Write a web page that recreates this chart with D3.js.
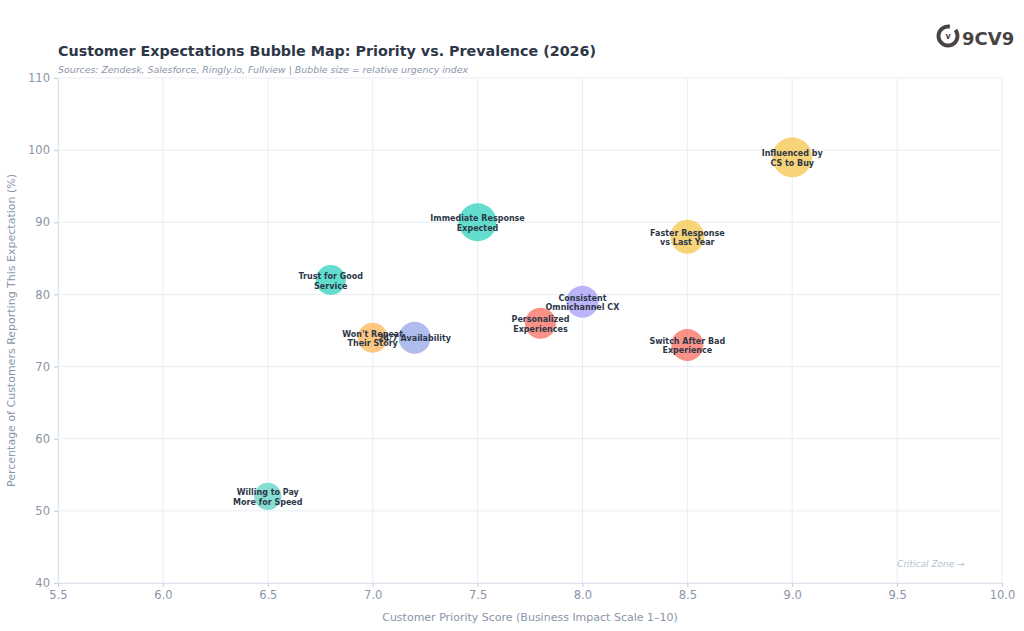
<!DOCTYPE html>
<html>
<head>
<meta charset="utf-8">
<script src="https://cdn.jsdelivr.net/npm/d3@7"></script>
<style>
  body { margin: 0; background: #fff; }
  svg { font-family: "DejaVu Sans", sans-serif; }
</style>
</head>
<body>
<script>
const w = 1024;
const h = 631;

// data
const labels = [
  "Influenced by\nCS to Buy",
  "Faster Response\nvs Last Year",
  "Immediate Response\nExpected",
  "Trust for Good\nService",
  "Won't Repeat\nTheir Story",
  "24/7 Availability",
  "Personalized\nExperiences",
  "Consistent\nOmnichannel CX",
  "Switch After Bad\nExperience",
  "Willing to Pay\nMore for Speed"
];
const priority = [9.0, 8.5, 7.5, 6.8, 7.0, 7.2, 7.8, 8.0, 8.5, 6.5];
const prevalence = [99, 88, 90, 82, 74, 74, 76, 79, 73, 52];
const urgency = [100, 72, 90, 56, 56, 64, 60, 64, 64, 46];
const colors = ["#f6c64c", "#f6c64c", "#2fd3bd", "#2fd3bd", "#fcb357", "#95a4e8", "#fa6e5f", "#a59cf7", "#fa6e5f", "#5fd3c4"];
const xTicks = [5.5, 6.0, 6.5, 7.0, 7.5, 8.0, 8.5, 9.0, 9.5, 10.0];
const yTicks = [40, 50, 60, 70, 80, 90, 100, 110];

const margin = { left: 58, right: 22, top: 78, bottom: 48 };

const svg = d3.select("body")
    .append("svg")
    .attr("width", w)
    .attr("height", h);

const xScale = d3.scaleLinear()
    .domain([5.5, 10])
    .range([margin.left, w - margin.right]);

const yScale = d3.scaleLinear()
    .domain([40, 110])
    .range([h - margin.bottom, margin.top]);

const rScale = d3.scaleSqrt()
    .domain([0, 100])
    .range([0, 20]);

// grid
svg.append("g")
    .selectAll("line")
    .data(xTicks)
    .enter()
    .append("line")
    .attr("x1", d => xScale(d))
    .attr("x2", d => xScale(d))
    .attr("y1", yScale(110))
    .attr("y2", yScale(40))
    .attr("stroke", "#e9edf3")
    .attr("stroke-width", 1);

svg.append("g")
    .selectAll("line")
    .data(yTicks)
    .enter()
    .append("line")
    .attr("x1", xScale(5.5))
    .attr("x2", xScale(10))
    .attr("y1", d => yScale(d))
    .attr("y2", d => yScale(d))
    .attr("stroke", "#e9edf3")
    .attr("stroke-width", 1);

// axes
const xAxis = d3.axisBottom(xScale)
    .tickValues(xTicks)
    .tickFormat(d3.format(".1f"))
    .tickSize(4)
    .tickPadding(4);

const yAxis = d3.axisLeft(yScale)
    .tickValues(yTicks)
    .tickSize(4)
    .tickPadding(4);

const gx = svg.append("g")
    .attr("transform", "translate(0, " + (h - margin.bottom) + ")")
    .call(xAxis);

const gy = svg.append("g")
    .attr("transform", "translate(" + margin.left + ", 0)")
    .call(yAxis);

[gx, gy].forEach(g => {
    g.select(".domain").attr("stroke", "#dde2ea");
    g.selectAll(".tick line").attr("stroke", "#c6ccd6");
    g.selectAll(".tick text")
        .attr("fill", "#8a95a8")
        .style("font-size", "11.5px")
        .style("font-family", "DejaVu Sans, sans-serif");
});

// axis titles
svg.append("text")
    .attr("x", (xScale(5.5) + xScale(10)) / 2)
    .attr("y", 621)
    .attr("text-anchor", "middle")
    .attr("fill", "#8a95a8")
    .style("font-size", "11px")
    .text("Customer Priority Score (Business Impact Scale 1\u201310)");

svg.append("text")
    .attr("transform", "translate(15, " + ((yScale(40) + yScale(110)) / 2) + ") rotate(-90)")
    .attr("text-anchor", "middle")
    .attr("fill", "#8a95a8")
    .style("font-size", "11px")
    .text("Percentage of Customers Reporting This Expectation (%)");

// annotation
svg.append("text")
    .attr("x", xScale(9.5))
    .attr("y", yScale(42.2))
    .attr("fill", "#b6becc")
    .style("font-size", "9px")
    .style("font-style", "italic")
    .text("Critical Zone \u2192");

// bubbles
const idx = d3.range(labels.length);

svg.append("g")
    .selectAll("circle")
    .data(idx)
    .enter()
    .append("circle")
    .attr("cx", i => xScale(priority[i]))
    .attr("cy", i => yScale(prevalence[i]))
    .attr("r", i => rScale(urgency[i]))
    .attr("fill", i => colors[i])
    .attr("fill-opacity", 0.75);

const lbl = svg.append("g")
    .selectAll("text")
    .data(idx)
    .enter()
    .append("text")
    .attr("x", i => xScale(priority[i]))
    .attr("y", i => yScale(prevalence[i]))
    .attr("text-anchor", "middle")
    .attr("fill", "#2d3748")
    .style("font-size", "8px")
    .style("font-weight", "bold");

lbl.each(function (i) {
    const lines = labels[i].split("\n");
    const t = d3.select(this);
    const start = lines.length === 1 ? 3 : -1;
    lines.forEach((ln, k) => {
        t.append("tspan")
            .attr("x", xScale(priority[i]))
            .attr("y", yScale(prevalence[i]) + start + k * 9.5)
            .text(ln);
    });
});

// title
svg.append("text")
    .attr("x", 58)
    .attr("y", 56)
    .attr("fill", "#2d3748")
    .style("font-size", "14.3px")
    .style("font-weight", "bold")
    .text("Customer Expectations Bubble Map: Priority vs. Prevalence (2026)");

svg.append("text")
    .attr("x", 58)
    .attr("y", 73)
    .attr("fill", "#8a95a8")
    .style("font-size", "9.4px")
    .style("font-style", "italic")
    .text("Sources: Zendesk, Salesforce, Ringly.io, Fullview | Bubble size = relative urgency index");

// logo
const logo = svg.append("g").attr("transform", "translate(948, 36)");
logo.append("path")
    .attr("d", d3.arc()({ innerRadius: 7.5, outerRadius: 11.5, startAngle: 0.9, endAngle: 2 * Math.PI + 0.2 }))
    .attr("fill", "#4a4344");
logo.append("text")
    .attr("x", 0)
    .attr("y", 3)
    .attr("text-anchor", "middle")
    .attr("fill", "#4a4344")
    .style("font-size", "8px")
    .style("font-weight", "bold")
    .text("v");
logo.append("text")
    .attr("x", 14)
    .attr("y", 9)
    .attr("fill", "#4a4344")
    .style("font-size", "18px")
    .style("font-weight", "bold")
    .text("9CV9");
</script>
</body>
</html>
